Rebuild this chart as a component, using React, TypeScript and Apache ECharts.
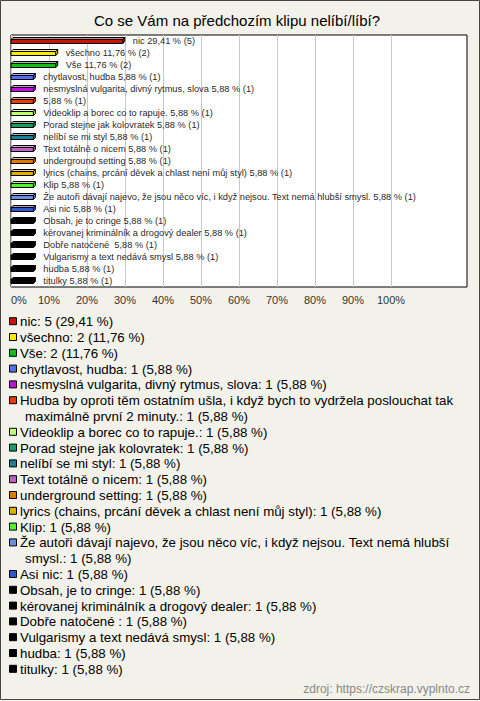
import React, { useEffect, useRef } from "react";
import * as echarts from "echarts";

const TITLE = "Co se Vám na předchozím klipu nelíbí/líbí?";
const SOURCE = "zdroj: https://czskrap.vyplnto.cz";

const categories: string[] = [
  "nic",
  "všechno",
  "Vše",
  "chytlavost, hudba",
  "nesmyslná vulgarita, divný rytmus, slova",
  "Hudba by oproti těm ostatním ušla, i když bych to vydržela poslouchat tak maximálně první 2 minuty.",
  "Videoklip a borec co to rapuje.",
  "Porad stejne jak kolovratek",
  "nelíbí se mi styl",
  "Text totálně o nicem",
  "underground setting",
  "lyrics (chains, prcání děvek a chlast není můj styl)",
  "Klip",
  "Že autoři dávají najevo, že jsou něco víc, i když nejsou. Text nemá hlubší smysl.",
  "Asi nic",
  "Obsah, je to cringe",
  "kérovanej kriminálník a drogový dealer",
  "Dobře natočené ",
  "Vulgarismy a text nedává smysl",
  "hudba",
  "titulky",
];

const counts: number[] = [5, 2, 2, 1, 1, 1, 1, 1, 1, 1, 1, 1, 1, 1, 1, 1, 1, 1, 1, 1, 1];

const percents: number[] = [
  29.41, 11.76, 11.76, 5.88, 5.88, 5.88, 5.88, 5.88, 5.88, 5.88, 5.88, 5.88, 5.88, 5.88, 5.88,
  5.88, 5.88, 5.88, 5.88, 5.88, 5.88,
];

// bar labels omit the name of this (too long) answer
const hiddenBarNames: number[] = [5];

const colors: string[] = [
  "#C81400",
  "#FFE800",
  "#10C010",
  "#5070F0",
  "#C010E0",
  "#E84000",
  "#C0FF70",
  "#10A060",
  "#1A8098",
  "#C060C0",
  "#E07800",
  "#E0B000",
  "#50F030",
  "#6890E0",
  "#3058C8",
  "#000000",
  "#000000",
  "#000000",
  "#000000",
  "#000000",
  "#000000",
];

const xTicks: number[] = [0, 10, 20, 30, 40, 50, 60, 70, 80, 90, 100];

const FONT = "Arial, 'Liberation Sans', sans-serif";
const LEGEND_FS = 13.3;

function fmt(v: number): string {
  return v.toFixed(2).replace(".", ",");
}

function lighten(hex: string, amt: number): string {
  if (hex.toLowerCase() === "#000000") return "#000000";
  const n = parseInt(hex.slice(1), 16);
  const r = (n >> 16) & 255;
  const g = (n >> 8) & 255;
  const b = n & 255;
  const m = (c: number) => Math.round(c + (255 - c) * amt);
  return `rgb(${m(r)},${m(g)},${m(b)})`;
}

function wrapText(text: string, maxWidth: number, font: string): string[] {
  const canvas = document.createElement("canvas");
  const ctx = canvas.getContext("2d");
  if (!ctx) return [text];
  ctx.font = font;
  const words = text.split(" ");
  const lines: string[] = [];
  let cur = "";
  for (const w of words) {
    const test = cur === "" ? w : cur + " " + w;
    if (ctx.measureText(test).width > maxWidth && cur !== "") {
      lines.push(cur);
      cur = w;
    } else {
      cur = test;
    }
  }
  if (cur !== "") lines.push(cur);
  return lines;
}

export default function App() {
  const ref = useRef<HTMLDivElement>(null);

  useEffect(() => {
    if (!ref.current) return;
    const chart = echarts.init(ref.current, undefined, { renderer: "svg" });

    const barData = categories.map((_, i) => [i, percents[i]]);

    // legend (graphic)
    const legendEls: any[] = [];
    const lineH = 15.8;
    let y = 321.7;
    categories.forEach((c, i) => {
      const txt = `${c}: ${counts[i]} (${fmt(percents[i])} %)`;
      const lines = wrapText(txt, 443, `${LEGEND_FS}px ${FONT}`);
      legendEls.push({
        type: "rect",
        shape: { x: 9.5, y: y - 4, width: 7, height: 7 },
        style: { fill: colors[i], stroke: "#000", lineWidth: 1 },
      });
      lines.forEach((ln, k) => {
        legendEls.push({
          type: "text",
          x: k === 0 ? 20 : 25,
          y: y,
          style: {
            text: ln,
            fontSize: LEGEND_FS,
            fontFamily: FONT,
            fill: "#000",
            verticalAlign: "middle",
            align: "left",
          },
        });
        y += lineH;
      });
    });

    const splitColors = xTicks.map(() => "#C8C8C8").concat(["rgba(0,0,0,0)", "rgba(0,0,0,0)"]);

    chart.setOption({
      animation: false,
      backgroundColor: "#F3F2EA",
      grid: {
        left: 11,
        top: 35,
        width: 456,
        height: 252,
        show: true,
        backgroundColor: "#FFFFFF",
        borderColor: "#000000",
        borderWidth: 1,
      },
      xAxis: {
        type: "value",
        min: 0,
        max: 120,
        interval: 10,
        axisLine: { show: false },
        axisTick: { show: false },
        splitLine: { show: true, lineStyle: { color: splitColors, width: 1 } },
        axisLabel: {
          margin: 7,
          fontSize: 11,
          fontFamily: FONT,
          color: "#333",
          alignMinLabel: "left",
          formatter: (v: number) => (xTicks.indexOf(v) >= 0 ? `${v}%` : ""),
        },
      },
      yAxis: {
        type: "category",
        data: categories,
        inverse: true,
        show: false,
      },
      series: [
        {
          type: "custom",
          clip: false,
          data: barData,
          encode: { x: 1, y: 0 },
          renderItem: (params: any, api: any) => {
            const idx = api.value(0);
            const val = api.value(1);
            const s = api.coord([0, idx]);
            const e = api.coord([val, idx]);
            const x0 = s[0];
            const x1 = e[0];
            const cy = e[1];
            const d = 2;
            const top = cy - 1.5;
            const bot = cy + 2.5;
            const col = colors[idx];
            const name = hiddenBarNames.indexOf(idx) >= 0 ? "" : categories[idx] + " ";
            const label = `${name}${fmt(percents[idx])} % (${counts[idx]})`;
            return {
              type: "group",
              children: [
                {
                  type: "polygon",
                  shape: {
                    points: [
                      [x0, top],
                      [x0 + d, top - d],
                      [x1 + d, top - d],
                      [x1, top],
                    ],
                  },
                  style: { fill: lighten(col, 0.45), stroke: "#000", lineWidth: 1 },
                },
                {
                  type: "polygon",
                  shape: {
                    points: [
                      [x1, top],
                      [x1 + d, top - d],
                      [x1 + d, bot - d],
                      [x1, bot],
                    ],
                  },
                  style: { fill: col, stroke: "#000", lineWidth: 1 },
                },
                {
                  type: "rect",
                  shape: { x: x0, y: top, width: x1 - x0, height: bot - top },
                  style: { fill: col, stroke: "#000", lineWidth: 1 },
                },
                {
                  type: "text",
                  x: x1 + 10,
                  y: cy - 0.5,
                  style: {
                    text: label,
                    fontSize: 9.25,
                    fontFamily: FONT,
                    fill: "#2a2a2a",
                    verticalAlign: "middle",
                    align: "left",
                  },
                },
              ],
            };
          },
        },
      ],
      graphic: [
        {
          type: "rect",
          shape: { x: 0.5, y: 0.5, width: 479, height: 699 },
          style: { fill: "none", stroke: "#444", lineWidth: 1 },
          silent: true,
        },
        {
          type: "text",
          x: 237,
          y: 20,
          style: {
            text: TITLE,
            fontSize: 15,
            fontFamily: FONT,
            fill: "#000",
            align: "center",
            verticalAlign: "middle",
          },
        },
        ...legendEls,
        {
          type: "text",
          x: 470,
          y: 689,
          style: {
            text: SOURCE,
            fontSize: 12,
            fontFamily: FONT,
            fill: "#888",
            align: "right",
            verticalAlign: "middle",
          },
        },
      ],
    });

    return () => chart.dispose();
  }, []);

  return (
    <div
      ref={ref}
      style={{ position: "absolute", left: 0, top: 0, width: 480, height: 701 }}
    />
  );
}
